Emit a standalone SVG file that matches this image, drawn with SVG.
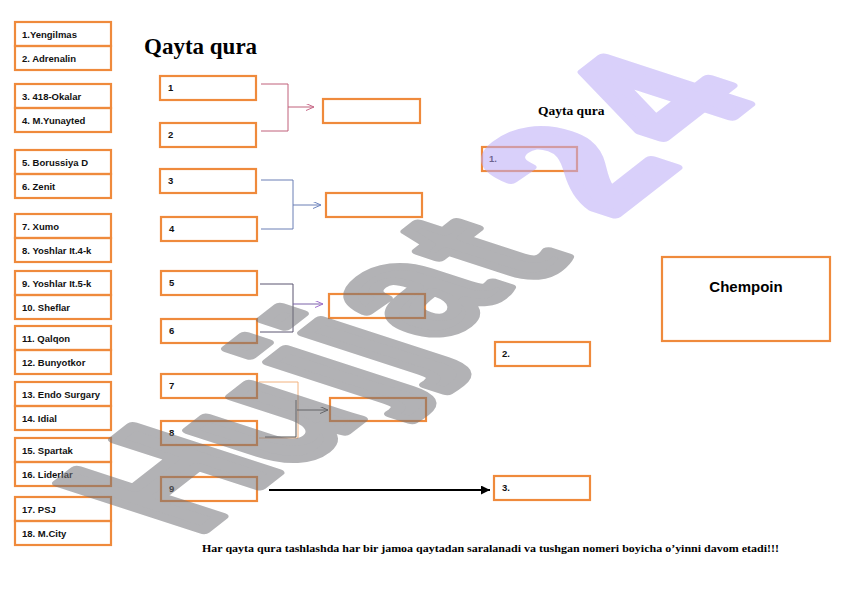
<svg xmlns="http://www.w3.org/2000/svg" width="842" height="596" viewBox="0 0 842 596">
<defs>
<style>
.box{fill:none;stroke:#ef8a3c;stroke-width:2.2}
.team{font-family:"Liberation Sans",Arial,sans-serif;font-weight:700;font-size:9.5px;fill:#111}
.num{font-family:"Liberation Sans",Arial,sans-serif;font-weight:700;font-size:9.5px;fill:#111}
.ser{font-family:"Liberation Serif","Times New Roman",serif;font-weight:700;fill:#000}
.ln{fill:none;stroke-width:1}
.wm{font-family:"Liberation Sans",Arial,sans-serif;font-weight:700;font-size:100px;stroke-width:6;stroke-linejoin:round;text-anchor:middle}
.wg{fill:#737378;stroke:#737378}
.wl{fill:#baaaf6;stroke:#baaaf6}
</style>
<marker id="arPink" markerUnits="userSpaceOnUse" markerWidth="10" markerHeight="8" refX="8" refY="3.5" orient="auto"><path d="M0,0 L8,3.5 L0,7" fill="none" stroke="#c86a8a" stroke-width="1"/></marker>
<marker id="arBlue" markerUnits="userSpaceOnUse" markerWidth="10" markerHeight="8" refX="8" refY="3.5" orient="auto"><path d="M0,0 L8,3.5 L0,7" fill="none" stroke="#6f86c0" stroke-width="1"/></marker>
<marker id="arPurp" markerUnits="userSpaceOnUse" markerWidth="10" markerHeight="8" refX="8" refY="3.5" orient="auto"><path d="M0,0 L8,3.5 L0,7" fill="none" stroke="#a070d0" stroke-width="1"/></marker>
<marker id="arDark" markerUnits="userSpaceOnUse" markerWidth="10" markerHeight="8" refX="8" refY="3.5" orient="auto"><path d="M0,0 L8,3.5 L0,7" fill="none" stroke="#555" stroke-width="1"/></marker>
<marker id="arBlack" markerUnits="userSpaceOnUse" markerWidth="10" markerHeight="10" refX="9" refY="4.5" orient="auto"><path d="M0,0 L9,4.5 L0,9 z" fill="#000"/></marker>
</defs>
<rect width="842" height="596" fill="#fff"/>

<text class="ser" x="144" y="54" font-size="23">Qayta qura</text>
<text class="ser" x="538" y="115" font-size="13.5">Qayta qura</text>

<g id="teams">
<g id="t1"><rect class="box" x="15" y="22" width="96" height="24"/><text class="team" x="22" y="37.5">1.Yengilmas</text></g>
<g id="t2"><rect class="box" x="15" y="46" width="96" height="24"/><text class="team" x="22" y="61.5">2. Adrenalin</text></g>
<g id="t3"><rect class="box" x="15" y="84" width="96" height="24"/><text class="team" x="22" y="99.5">3. 418-Okalar</text></g>
<g id="t4"><rect class="box" x="15" y="108" width="96" height="24"/><text class="team" x="22" y="123.5">4. M.Yunayted</text></g>
<g id="t5"><rect class="box" x="15" y="150" width="96" height="24"/><text class="team" x="22" y="165.5">5. Borussiya D</text></g>
<g id="t6"><rect class="box" x="15" y="174" width="96" height="24"/><text class="team" x="22" y="189.5">6. Zenit</text></g>
<g id="t7"><rect class="box" x="15" y="214" width="96" height="24"/><text class="team" x="22" y="229.5">7. Xumo</text></g>
<g id="t8"><rect class="box" x="15" y="238" width="96" height="24"/><text class="team" x="22" y="253.5">8. Yoshlar It.4-k</text></g>
<g id="t9"><rect class="box" x="15" y="271" width="96" height="24"/><text class="team" x="22" y="286.5">9. Yoshlar It.5-k</text></g>
<g id="t10"><rect class="box" x="15" y="295" width="96" height="24"/><text class="team" x="22" y="310.5">10. Sheflar</text></g>
<g id="t11"><rect class="box" x="15" y="326" width="96" height="24"/><text class="team" x="22" y="341.5">11. Qalqon</text></g>
<g id="t12"><rect class="box" x="15" y="350" width="96" height="24"/><text class="team" x="22" y="365.5">12. Bunyotkor</text></g>
<g id="t13"><rect class="box" x="15" y="382" width="96" height="24"/><text class="team" x="22" y="397.5">13. Endo Surgary</text></g>
<g id="t14"><rect class="box" x="15" y="406" width="96" height="24"/><text class="team" x="22" y="421.5">14. Idial</text></g>
<g id="t15"><rect class="box" x="15" y="438" width="96" height="24"/><text class="team" x="22" y="453.5">15. Spartak</text></g>
<g id="t16"><rect class="box" x="15" y="462" width="96" height="24"/><text class="team" x="22" y="477.5">16. Liderlar</text></g>
<g id="t17"><rect class="box" x="15" y="497" width="96" height="24"/><text class="team" x="22" y="512.5">17. PSJ</text></g>
<g id="t18"><rect class="box" x="15" y="521" width="96" height="24"/><text class="team" x="22" y="536.5">18. M.City</text></g>
</g>

<g id="round1">
<g id="m1"><rect class="box" x="160" y="76" width="96" height="24"/><text class="num" x="168" y="91">1</text></g>
<g id="m2"><rect class="box" x="160" y="123" width="96" height="24"/><text class="num" x="168" y="138">2</text></g>
<g id="m3"><rect class="box" x="160" y="169" width="96" height="24"/><text class="num" x="168" y="184">3</text></g>
<g id="m4"><rect class="box" x="161" y="217" width="96" height="24"/><text class="num" x="169" y="232">4</text></g>
<g id="m5"><rect class="box" x="161" y="271" width="96" height="24"/><text class="num" x="169" y="286">5</text></g>
<g id="m6"><rect class="box" x="161" y="319" width="96" height="24"/><text class="num" x="169" y="334">6</text></g>
<g id="m7"><rect class="box" x="161" y="374" width="96" height="24"/><text class="num" x="169" y="389">7</text></g>
<g id="m8"><rect class="box" x="161" y="421" width="96" height="24"/><text class="num" x="169" y="436">8</text></g>
<g id="m9"><rect class="box" x="161" y="477" width="96" height="24"/><text class="num" x="169" y="492">9</text></g>
</g>

<g id="round2">
<g id="w1"><rect class="box" x="323" y="99" width="97" height="24"/></g>
<g id="w2"><rect class="box" x="326" y="193" width="96" height="24"/></g>
<g id="w3"><rect class="box" x="329" y="294" width="96" height="24"/></g>
<g id="w4"><rect class="box" x="330" y="398" width="96" height="23"/></g>
</g>

<g id="final">
<g id="r1"><rect class="box" x="482" y="147" width="95" height="24"/><text class="num" x="489" y="162">1.</text></g>
<g id="r2"><rect class="box" x="495" y="342" width="95" height="24"/><text class="num" x="502" y="357">2.</text></g>
<g id="r3"><rect class="box" x="494" y="476" width="96" height="24"/><text class="num" x="502" y="491">3.</text></g>
<g id="champ"><rect class="box" x="662" y="257" width="168" height="84"/><text x="746" y="292" text-anchor="middle" font-family="Liberation Sans,Arial,sans-serif" font-weight="700" font-size="15" fill="#000">Chempoin</text></g>
</g>

<g id="connectors">
<path class="ln" stroke="#c0607a" d="M261,84 H288 V131 H261"/>
<path class="ln" stroke="#c0607a" d="M288,107 H314" marker-end="url(#arPink)"/>
<path class="ln" stroke="#6a7fb5" d="M261,180 H293 V229 H261"/>
<path class="ln" stroke="#6a7fb5" d="M293,205 H321" marker-end="url(#arBlue)"/>
<path class="ln" stroke="#5a5470" d="M260,284 H293 V332 H260"/>
<path class="ln" stroke="#7a62a8" d="M293,304 H323" marker-end="url(#arPurp)"/>
<path class="ln" stroke="#f2b27f" d="M259,382 H298 V438 H259"/>
<path class="ln" stroke="#555" d="M296,400 V437 H265"/>
<path class="ln" stroke="#555" d="M297,410 H328" marker-end="url(#arDark)"/>
<path fill="none" stroke="#000" stroke-width="2" d="M269,490 H490" marker-end="url(#arBlack)"/>
</g>

<text class="ser" x="202" y="552" font-size="11" textLength="577" lengthAdjust="spacingAndGlyphs">Har qayta qura tashlashda har bir jamoa qaytadan saralanadi va tushgan nomeri boyicha o’yinni davom etadi!!!</text>

<g id="watermark" opacity="0.55">
<text class="wm wg" transform="translate(165,477) matrix(1.261,-0.985,2.092,0.68,0,0)" x="0" y="36">H</text>
<text class="wm wg" transform="translate(276,425) matrix(1.261,-0.985,2.092,0.68,0,0)" x="0" y="26">u</text>
<text class="wm wg" transform="translate(334,374) matrix(1.261,-0.985,2.092,0.68,0,0)" x="0" y="26">j</text>
<text class="wm wg" transform="translate(369,345) matrix(1.261,-0.985,2.092,0.68,0,0)" x="0" y="26">j</text>
<text class="wm wg" transform="translate(420,298) matrix(1.261,-0.985,2.092,0.68,0,0)" x="0" y="26">a</text>
<text class="wm wg" transform="translate(480,250) matrix(1.261,-0.985,2.092,0.68,0,0)" x="0" y="33">t</text>
<text class="wm wl" transform="translate(572,167) matrix(1.261,-0.985,2.092,0.68,0,0)" x="0" y="35">2</text>
<text class="wm wl" transform="translate(652,98) matrix(1.261,-0.985,2.092,0.68,0,0)" x="0" y="35">4</text>
</g>
</svg>
